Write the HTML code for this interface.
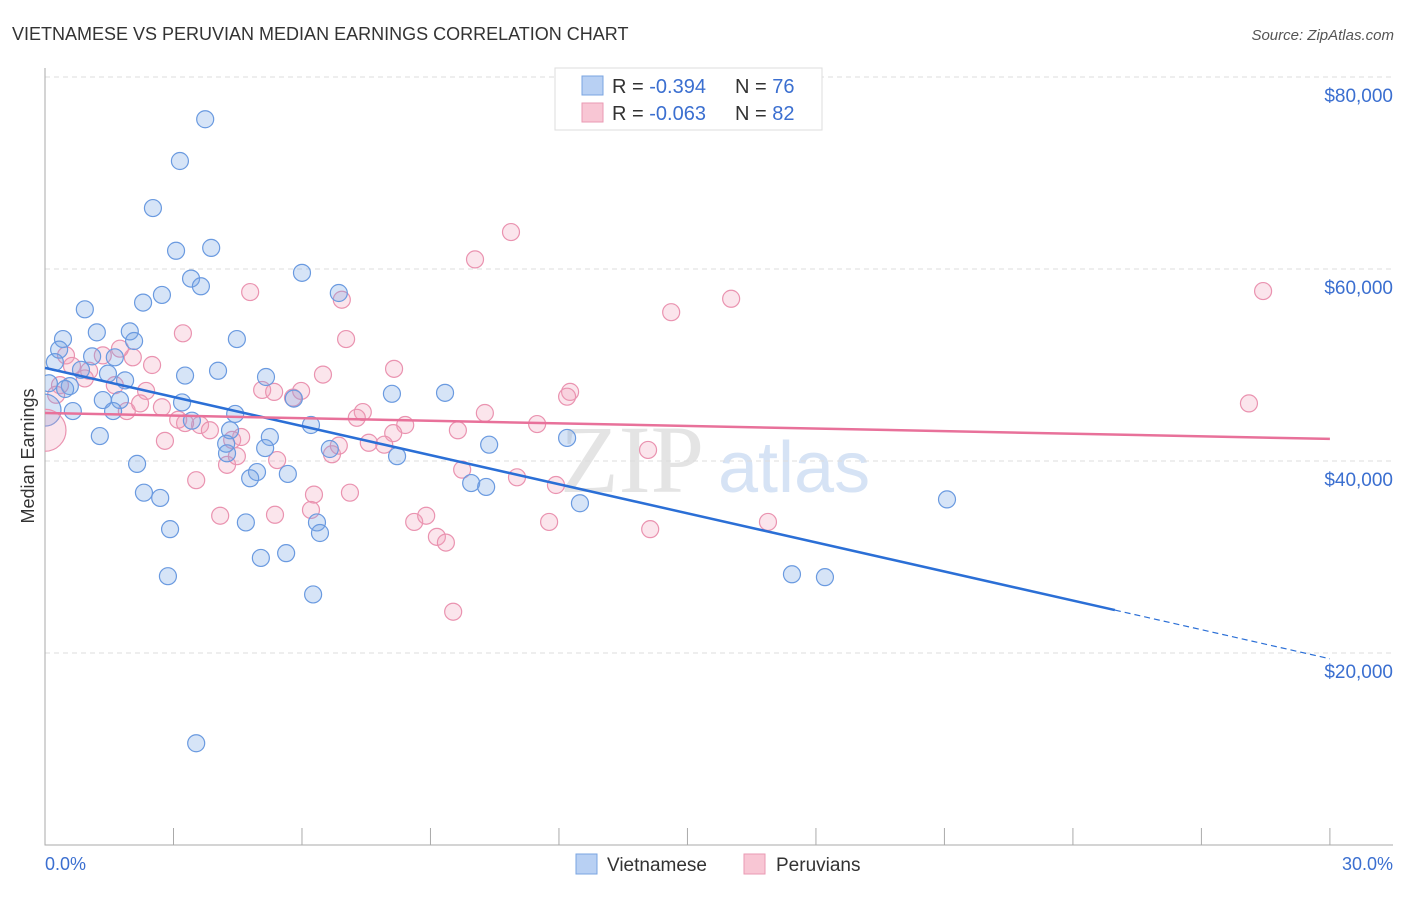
<!DOCTYPE html>
<html><head><meta charset="utf-8"><style>
body{margin:0;background:#fff;font-family:"Liberation Sans",sans-serif}
</style></head><body>
<svg id="c" width="1406" height="892" xmlns="http://www.w3.org/2000/svg" style="font-family:'Liberation Sans',sans-serif">
<defs><clipPath id="plotclip"><rect x="45" y="60" width="1360" height="785"/></clipPath></defs>
<text x="12" y="40" font-size="18" fill="#333">VIETNAMESE VS PERUVIAN MEDIAN EARNINGS CORRELATION CHART</text>
<text x="1394" y="40" font-size="15" fill="#555" font-style="italic" text-anchor="end">Source: ZipAtlas.com</text>
<text x="560" y="492" font-size="96" fill="#e4e4e4" font-family="Liberation Serif">ZIP</text>
<text x="718" y="492" font-size="72" fill="#d6e3f5">atlas</text>
<g id="grid"></g>
<g id="axes"></g>
<g id="pts" clip-path="url(#plotclip)"></g>
<g id="lines"></g>
<text transform="translate(34,456) rotate(-90)" font-size="18" fill="#333" text-anchor="middle">Median Earnings</text>
<text x="45" y="870" font-size="18" fill="#3b6fd0">0.0%</text>
<text x="1393" y="870" font-size="18" fill="#3b6fd0" text-anchor="end">30.0%</text>
<g>
<rect x="555" y="68" width="267" height="62" fill="#fff" stroke="#ddd"/>
<rect x="582" y="76" width="21" height="19" fill="#b8d0f3" stroke="#7aa4e0"/>
<rect x="582" y="103" width="21" height="19" fill="#f8c6d4" stroke="#ea9ab3"/>
<text x="612" y="93" font-size="20" fill="#333">R = <tspan fill="#3b6fd0">-0.394</tspan><tspan x="735">N = </tspan><tspan fill="#3b6fd0">76</tspan></text>
<text x="612" y="120" font-size="20" fill="#333">R = <tspan fill="#3b6fd0">-0.063</tspan><tspan x="735">N = </tspan><tspan fill="#3b6fd0">82</tspan></text>
</g>
<g>
<rect x="576" y="854" width="21" height="20" fill="#b8d0f3" stroke="#7aa4e0"/>
<text x="607" y="871" font-size="19" fill="#333">Vietnamese</text>
<rect x="744" y="854" width="21" height="20" fill="#f8c6d4" stroke="#ea9ab3"/>
<text x="776" y="871" font-size="19" fill="#333">Peruvians</text>
</g>
</svg>
<script>
const yTicks=[20000,40000,60000,80000];
const yTickLabels=["$20,000","$40,000","$60,000","$80,000"];
const xTicks=[0,3,6,9,12,15,18,21,24,27,30];
const blueX=[3.74,3.15,2.52,3.06,3.88,3.41,3.64,6.0,6.86,2.73,2.29,0.93,1.21,1.98,2.08,4.48,0.42,0.33,0.23,1.63,1.10,0.84,1.47,1.87,3.27,4.04,5.16,8.10,9.34,0.58,0.47,0.09,1.35,1.75,1.59,0.65,3.20,5.81,4.44,3.43,4.32,6.21,5.25,1.28,4.23,4.25,5.14,6.65,8.22,10.37,12.19,2.15,4.95,5.67,4.79,2.31,2.69,9.95,10.30,12.49,21.06,4.69,6.35,6.42,2.92,5.04,5.63,2.87,17.44,18.21,6.26,3.53];
const blueY=[75.6,71.25,66.35,61.9,62.2,59.0,58.2,59.6,57.5,57.3,56.5,55.8,53.4,53.5,52.5,52.7,52.7,51.6,50.3,50.8,50.9,49.5,49.1,48.4,48.9,49.4,48.75,47.0,47.1,47.8,47.5,48.1,46.35,46.35,45.2,45.2,46.1,46.5,44.9,44.2,43.2,43.75,42.5,42.6,41.8,40.8,41.35,41.25,40.5,41.7,42.4,39.7,38.85,38.65,38.2,36.7,36.15,37.7,37.3,35.6,36.0,33.6,33.6,32.5,32.9,29.9,30.4,28.0,28.2,27.9,26.1,10.6];
const pinkX=[10.88,10.04,4.79,6.93,14.62,16.02,28.44,3.22,7.03,2.50,1.35,2.05,1.75,0.49,1.03,0.63,0.93,8.15,6.49,5.07,5.35,5.79,5.98,2.36,1.63,0.35,0.26,12.26,12.19,10.27,11.49,7.42,7.28,2.73,1.91,2.22,3.62,3.27,3.11,3.85,4.58,4.37,8.41,8.13,7.92,7.56,9.64,11.02,9.74,11.93,2.80,4.25,4.48,5.42,6.70,6.86,3.53,14.08,7.12,6.28,5.37,6.21,4.09,8.62,8.90,9.15,9.36,11.77,14.13,16.88,9.53,28.11];
const pinkY=[63.85,61.0,57.6,56.8,55.5,56.9,57.7,53.3,52.7,50.0,51.0,50.8,51.7,51.0,49.4,49.9,48.6,49.6,49.0,47.4,47.2,46.6,47.3,47.3,47.9,47.9,46.9,47.2,46.7,45.0,43.85,45.1,44.5,45.6,45.2,46.0,43.75,43.95,44.3,43.2,42.5,42.2,43.75,42.9,41.7,41.9,43.2,38.3,39.1,37.5,42.1,39.6,40.5,40.1,40.7,41.6,38.0,41.15,36.7,36.5,34.4,34.9,34.3,33.65,34.3,32.1,31.5,33.65,32.9,33.65,24.3,46.0];
const bigX=[0,0];const bigY=[45.3,43.2];const bigR=[16,21];
const blueTrend=[49.7,19.4];const pinkTrend=[45.0,42.3];const blueSolidEnd=24.98;
const sx=v=>45+v*42.83, sy=k=>845-k*9.6;
const NS="http://www.w3.org/2000/svg";
function mk(p,t,a){const e=document.createElementNS(NS,t);for(const k in a)e.setAttribute(k,a[k]);document.getElementById(p).appendChild(e);return e;}
yTicks.forEach((t,i)=>{
 const g=mk('grid','line',{x1:45,x2:1393,y1:sy(t/1000),y2:sy(t/1000),stroke:'#ddd','stroke-dasharray':'5,4'});
 
 
 const l=mk('grid','text',{x:1393,y:sy(t/1000)+25,'font-size':19,fill:'#3b6fd0','text-anchor':'end'});
 l.textContent=yTickLabels[i];
 
 
});
const ax=mk('axes','path',{d:'M45,68V845H1393',fill:'none',stroke:'#aaa'});


xTicks.forEach(t=>{if(t===0)return;
 const tk=mk('axes','line',{x1:sx(t),x2:sx(t),y1:828,y2:845,stroke:'#aaa'});
 
 
});
function dot(x,y,r,b){const c=mk('pts','circle',{cx:sx(x),cy:sy(y),r:r,fill:b?'rgba(120,165,230,0.3)':'rgba(240,160,185,0.28)',stroke:b?'#6a9ae0':'#ea93b0','stroke-width':1.2});
 return c;}
pinkX.forEach((x,i)=>{const c=dot(x,pinkY[i],8.5,false);
 
 });
blueX.forEach((x,i)=>{const c=dot(x,blueY[i],8.5,true);
 
 });
bigX.forEach((x,i)=>{const c=dot(x,bigY[i],bigR[i],i===0);
 
 });
const bAt=x=>blueTrend[0]+(blueTrend[1]-blueTrend[0])*x/30;
const b1=mk('lines','line',{x1:sx(0),y1:sy(bAt(0)),x2:sx(blueSolidEnd),y2:sy(bAt(blueSolidEnd)),stroke:'#2b6fd6','stroke-width':2.5});


const b2=mk('lines','line',{x1:sx(blueSolidEnd),y1:sy(bAt(blueSolidEnd)),x2:sx(30),y2:sy(bAt(30)),stroke:'#2b6fd6','stroke-width':1.2,'stroke-dasharray':'6,4'});


const p1=mk('lines','line',{x1:sx(0),y1:sy(pinkTrend[0]),x2:sx(30),y2:sy(pinkTrend[1]),stroke:'#e8719a','stroke-width':2.5});


</script>
</body></html>
